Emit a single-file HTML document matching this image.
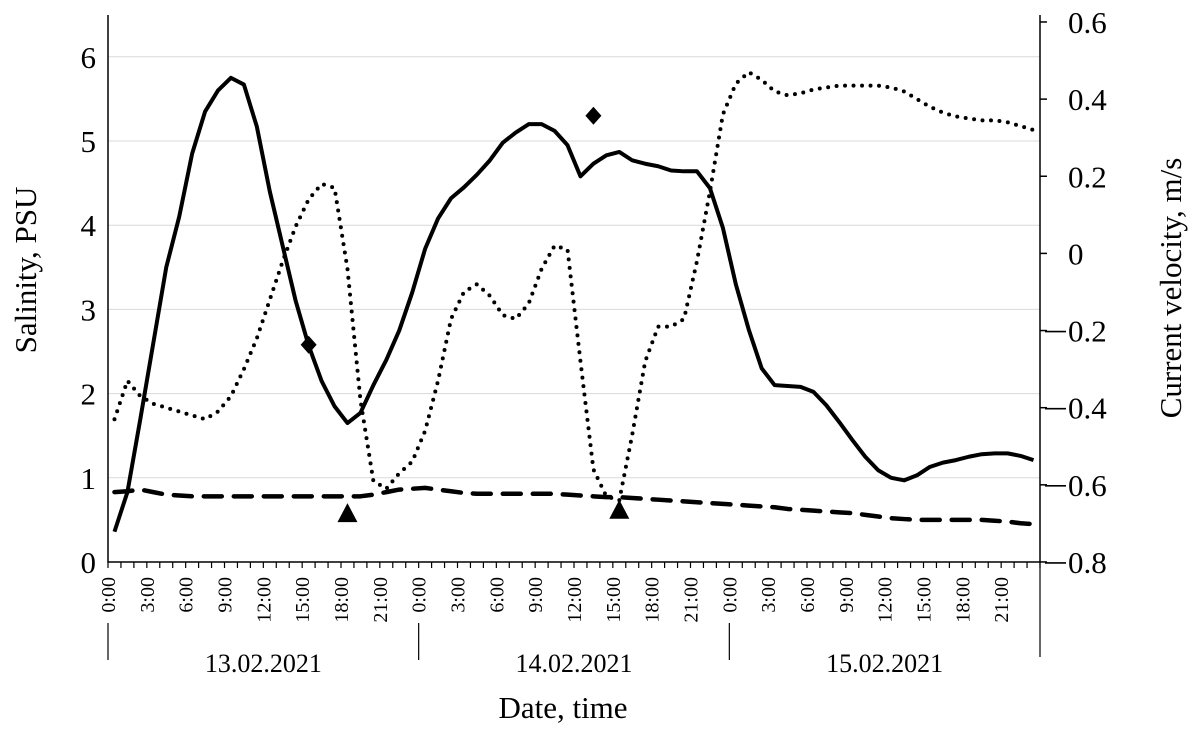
<!DOCTYPE html>
<html><head><meta charset="utf-8"><style>
body{margin:0;background:#fff}
svg{font-family:"Liberation Serif",serif}
</style></head><body>
<svg id="c" width="1199" height="744" viewBox="0 0 1199 744"></svg>
<script>
const salinity=[0.36,0.83,1.7,2.6,3.5,4.1,4.85,5.35,5.6,5.75,5.67,5.17,4.4,3.75,3.1,2.57,2.15,1.85,1.65,1.77,2.1,2.4,2.75,3.2,3.72,4.08,4.32,4.45,4.6,4.77,4.98,5.1,5.2,5.2,5.12,4.95,4.58,4.73,4.83,4.87,4.77,4.73,4.7,4.65,4.64,4.64,4.44,3.97,3.3,2.76,2.3,2.1,2.09,2.08,2.02,1.86,1.66,1.45,1.25,1.09,1.0,0.97,1.03,1.13,1.18,1.21,1.25,1.28,1.29,1.29,1.26,1.21];
const salinity2=[0.83,0.84,0.86,0.83,0.8,0.79,0.78,0.78,0.78,0.78,0.78,0.78,0.78,0.78,0.78,0.78,0.78,0.78,0.78,0.78,0.8,0.83,0.86,0.87,0.88,0.86,0.84,0.82,0.81,0.81,0.81,0.81,0.81,0.81,0.81,0.8,0.79,0.78,0.77,0.77,0.76,0.75,0.74,0.73,0.72,0.71,0.7,0.69,0.68,0.67,0.66,0.65,0.63,0.62,0.61,0.6,0.59,0.58,0.56,0.54,0.52,0.51,0.5,0.5,0.5,0.5,0.5,0.5,0.49,0.48,0.46,0.45];
const velocity=[-0.43,-0.33,-0.37,-0.39,-0.40,-0.41,-0.42,-0.43,-0.41,-0.37,-0.30,-0.22,-0.12,-0.02,0.07,0.14,0.18,0.17,-0.04,-0.38,-0.59,-0.61,-0.57,-0.54,-0.46,-0.33,-0.17,-0.10,-0.08,-0.11,-0.16,-0.17,-0.13,-0.04,0.02,0.01,-0.28,-0.56,-0.63,-0.64,-0.47,-0.28,-0.19,-0.19,-0.17,-0.02,0.16,0.36,0.44,0.47,0.45,0.42,0.41,0.415,0.425,0.43,0.435,0.435,0.435,0.435,0.43,0.42,0.40,0.38,0.365,0.355,0.35,0.345,0.345,0.34,0.33,0.32];
const diamonds=[[15,2.58],[37,5.3]];
const triangles=[[18,0.58],[39,0.62]];
const leftTicks=[0,1,2,3,4,5,6];
const rightTicks=[0.6,0.4,0.2,0,-0.2,-0.4,-0.6,-0.8];
const hourLabels=["0:00","3:00","6:00","9:00","12:00","15:00","18:00","21:00"];
const days=["13.02.2021","14.02.2021","15.02.2021"];

const svg=document.getElementById('c');
const NS='http://www.w3.org/2000/svg';
const X0=108,X1=1040,YB=562,HW=(X1-X0)/72;
const xh=h=>X0+(h+0.5)*HW, xt=h=>X0+h*HW;
const yl=v=>YB-84.2*v, yr=v=>253.4-385.7*v;
function mk(t,a,p){const e=document.createElementNS(NS,t);for(const k in a)e.setAttribute(k,a[k]);(p||svg).appendChild(e);return e;}

leftTicks.forEach(v=>{if(v>0){const g=mk('line',{x1:X0,x2:X1,y1:yl(v),y2:yl(v),stroke:'#d9d9d9','stroke-width':1});

}
const t=mk('text',{x:X0-12,y:yl(v)+11,'font-size':31,'text-anchor':'end'});t.textContent=v;

});
rightTicks.forEach(v=>{const y=yr(v);mk('line',{x1:X1,x2:X1+7,y1:y,y2:y,stroke:'#000','stroke-width':1.5});
const t=mk('text',{x:1068,y:y+11,'font-size':31});t.textContent=(v===0?'0':Math.abs(v).toFixed(1));


if(v<0){const m=mk('line',{x1:1045,x2:1066,y1:y+1,y2:y+1,stroke:'#000','stroke-width':1.6});

}});
const ax=mk('path',{d:`M${X0},15V${YB}H${X1}V15`,fill:'none',stroke:'#000','stroke-width':1.5});


for(let h=0;h<=72;h++){mk('line',{x1:xt(h),x2:xt(h),y1:YB,y2:YB+6,stroke:'#000','stroke-width':1.2});}
for(let d=0;d<3;d++){
 hourLabels.forEach((s,i)=>{const x=xt(d*24+i*3)+7;const t=mk('text',{x:0,y:0,'font-size':20,'text-anchor':'end',transform:`translate(${x},577) rotate(-90)`});t.textContent=s;
 
 });
 mk('line',{x1:xt(d*24),x2:xt(d*24),y1:623,y2:660,stroke:'#000','stroke-width':1.2});
 const t=mk('text',{x:xt(d*24+12),y:672,'font-size':26,'text-anchor':'middle'});t.textContent=days[d];
 
 }
mk('line',{x1:X1,x2:X1,y1:YB,y2:657,stroke:'#000','stroke-width':1.2});
let t=mk('text',{x:563,y:718,'font-size':31,'text-anchor':'middle'});t.textContent='Date, time';

t=mk('text',{x:0,y:0,'font-size':31,'text-anchor':'middle',transform:'translate(36,270) rotate(-90)'});t.textContent='Salinity, PSU';

t=mk('text',{x:0,y:0,'font-size':31,'text-anchor':'middle',transform:'translate(1181,288) rotate(-90)'});t.textContent='Current velocity, m/s';


const line=(arr,f,attrs,name)=>{const p=mk('polyline',Object.assign({points:arr.map((v,i)=>xh(i)+','+f(v)).join(' '),fill:'none',stroke:'#000','stroke-linejoin':'round'},attrs));
};
line(salinity2,yl,{'stroke-width':4.5,'stroke-dasharray':'18,12','stroke-linecap':'round'},'salinity-bottom-line');
line(velocity,yr,{'stroke-width':4,'stroke-dasharray':'0,8.5','stroke-linecap':'round'},'velocity-line');
line(salinity,yl,{'stroke-width':4},'salinity-surface-line');
diamonds.forEach(([h,v])=>{const x=xh(h),y=yl(v);const p=mk('polygon',{points:`${x},${y-9} ${x+8},${y} ${x},${y+9} ${x-8},${y}`,fill:'#000'});
});
triangles.forEach(([h,v])=>{const x=xh(h),y=yl(v);const p=mk('polygon',{points:`${x},${y-10} ${x+10},${y+9} ${x-10},${y+9}`,fill:'#000'});
});
</script>
</body></html>
